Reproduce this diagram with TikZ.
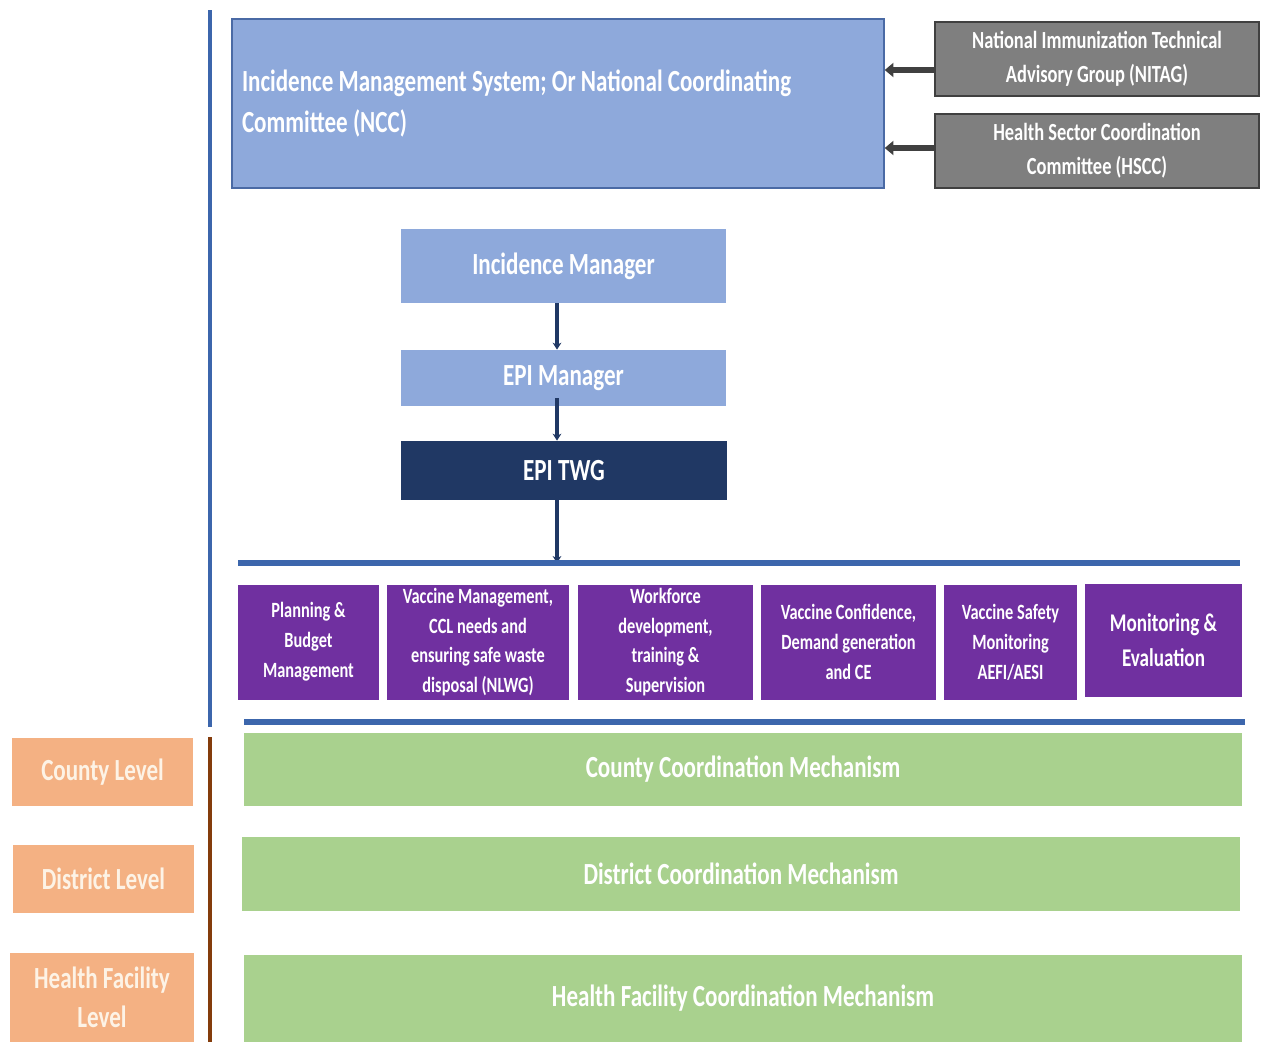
\documentclass[tikz,border=0pt]{standalone}
\usepackage{fontspec}
\setmainfont[FakeStretch=0.75]{Carlito}
\usetikzlibrary{arrows.meta}

\definecolor{nccblue}{HTML}{8EA9DB}
\definecolor{nccedge}{HTML}{4A6AA5}
\definecolor{barblue}{HTML}{3C66AC}
\definecolor{advgray}{HTML}{7F7F7F}
\definecolor{advedge}{HTML}{404040}
\definecolor{twgnavy}{HTML}{203864}
\definecolor{wgpurple}{HTML}{7030A0}
\definecolor{mechgreen}{HTML}{A9D18E}
\definecolor{lvlorange}{HTML}{F4B183}
\definecolor{lvltext}{HTML}{FDF3E6}
\definecolor{lvlbrown}{HTML}{843C0C}

\begin{document}
\begin{tikzpicture}[x=0.02cm,y=-0.02cm,
  sz/.style 2 args={minimum width=#1*0.02cm,minimum height=#2*0.02cm},
  box/.style={inner sep=0pt,text=white,align=center},
  adv/.style={box,fill=advgray,draw=advedge,thick,font=\bfseries\fontsize{14}{19.5}\selectfont},
  mgr/.style={box,fill=nccblue,font=\bfseries\fontsize{17.5}{22}\selectfont},
  wg/.style={box,fill=wgpurple,font=\bfseries\fontsize{12.4}{17}\selectfont},
  mech/.style={box,fill=mechgreen,font=\bfseries\fontsize{17.5}{22}\selectfont},
  lvl/.style={box,fill=lvlorange,text=lvltext,font=\bfseries\fontsize{17.5}{22.5}\selectfont},
  feed/.style={line width=3pt,draw=advedge,-{Triangle[length=5pt,width=8pt]}},
  down/.style={line width=1.8pt,draw=twgnavy,-{Stealth[length=4pt,width=5pt]}},
  bar/.style={line width=3.6pt,draw=barblue}]
  \useasboundingbox (0,0) rectangle (1264,1042);
   \coordinate (spine) at (557,0);

% national level
  \node[box,sz={652}{169},fill=nccblue,draw=nccedge,thick,text width=632*0.02cm,align=flush left,
        font=\bfseries\fontsize{17.5}{23}\selectfont] (ncc) at (558,103.5)
        {Incidence Management System; Or National Coordinating\\Committee (NCC)};
  \node[adv,sz={324}{74}] (nitag) at (1097,59) {National Immunization Technical\\Advisory Group (NITAG)};
  \node[adv,sz={324}{74}] (hscc) at (1097,151) {Health Sector Coordination\\Committee (HSCC)};
  \draw[feed] (nitag.west |- 0,70) -- (ncc.east |- 0,70);
  \draw[feed] (hscc.west |- 0,148) -- (ncc.east |- 0,148);

  \node[mgr,sz={325}{74}] (im) at (563.5,266) {Incidence Manager};
  \node[mgr,sz={325}{56}] (epim) at (563.5,378) {EPI Manager};
  \node[box,sz={326}{59},fill=twgnavy,font=\bfseries\fontsize{17.5}{22}\selectfont] (twg) at (564,470.5) {EPI TWG};

   \coordinate (barL) at (238,563);
   \coordinate (barR) at (1240,563);
   \coordinate (lowL) at (244,722);
   \coordinate (lowR) at (1245,722);
  \draw[down] (im.south -| spine) -- (epim.north -| spine);
  \draw[down] (spine |- 0,398) -- (twg.north -| spine);
  \draw[down] (twg.south -| spine) -- (barL -| spine);
  \draw[bar] (barL) -- (barR);
  \draw[bar] (lowL) -- (lowR);

% working groups
  \foreach \n/\cx/\w/\t in {plan/308.5/141/{Planning \&\\Budget\\Management},
      vacc/478/182/{Vaccine Management,\\CCL needs and\\ensuring safe waste\\disposal (NLWG)},
      work/665.5/175/{Workforce\\development,\\training \&\\Supervision},
      conf/848.5/175/{Vaccine Confidence,\\Demand generation\\and CE},
      safe/1010.5/133/{Vaccine Safety\\Monitoring\\AEFI/AESI}}{%
    \node[wg,sz={\w}{115}] (\n) at (\cx,642) {\t};
  }
  \node[wg,sz={157}{113},font=\bfseries\fontsize{14.5}{20}\selectfont] (mne) at (1163.5,640.5) {Monitoring \&\\Evaluation};

% sub-national levels
  \draw[line width=2.4pt,barblue] (210,10) -- (210,727);
  \draw[line width=2.4pt,lvlbrown] (210,737) -- (210,1042);
  \node[mech,sz={998}{73}] (cty) at (743,769.5) {County Coordination Mechanism};
  \node[mech,sz={998}{74}] (dst) at (741,874) {District Coordination Mechanism};
  \node[mech,sz={998}{87}] (hfc) at (743,998.5) {Health Facility Coordination Mechanism};
  \node[lvl,sz={181}{68}] (ctyl) at (102.5,772) {County Level};
  \node[lvl,sz={181}{68}] (dstl) at (103.5,879) {District Level};
  \node[lvl,sz={184}{89}] (hfl) at (102,997.5) {Health Facility\\Level};
 \end{tikzpicture}
\end{document}
